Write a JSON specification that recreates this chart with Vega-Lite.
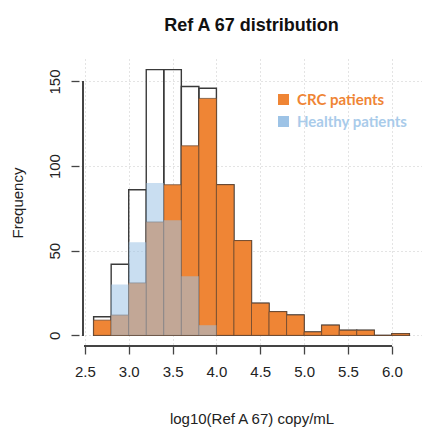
{
  "$schema": "https://vega.github.io/schema/vega-lite/v6.json",
  "width": 341,
  "height": 287,
  "autosize": {"type": "none"},
  "padding": {"left": 81, "top": 59, "right": 0, "bottom": 86},
  "background": "white",
  "title": {
    "text": "Ref A 67 distribution",
    "font": "Liberation Sans",
    "fontSize": 18,
    "fontWeight": "bold",
    "color": "#111",
    "anchor": "middle",
    "frame": "group",
    "baseline": "alphabetic",
    "offset": 10
  },
  "config": {
    "view": {"stroke": null},
    "axis": {
      "labelFont": "Liberation Sans",
      "titleFont": "Liberation Sans",
      "labelColor": "#222",
      "titleColor": "#222",
      "labelFontSize": 15,
      "titleFontSize": 15,
      "titleFontWeight": "normal",
      "tickColor": "#444",
      "tickWidth": 1.3,
      "domain": false,
      "gridColor": "#c8c8c8",
      "gridDash": [1, 3],
      "gridWidth": 1
    }
  },
  "data": {
    "values": [
      {"lo": 2.6, "hi": 2.8, "group": "All", "n": 11},
      {"lo": 2.8, "hi": 3.0, "group": "All", "n": 42},
      {"lo": 3.0, "hi": 3.2, "group": "All", "n": 86},
      {"lo": 3.2, "hi": 3.4, "group": "All", "n": 157},
      {"lo": 3.4, "hi": 3.6, "group": "All", "n": 157},
      {"lo": 3.6, "hi": 3.8, "group": "All", "n": 147},
      {"lo": 3.8, "hi": 4.0, "group": "All", "n": 146},
      {"lo": 4.0, "hi": 4.2, "group": "All", "n": 89},
      {"lo": 4.2, "hi": 4.4, "group": "All", "n": 56},
      {"lo": 4.4, "hi": 4.6, "group": "All", "n": 19},
      {"lo": 4.6, "hi": 4.8, "group": "All", "n": 14},
      {"lo": 4.8, "hi": 5.0, "group": "All", "n": 12},
      {"lo": 5.0, "hi": 5.2, "group": "All", "n": 2},
      {"lo": 5.2, "hi": 5.4, "group": "All", "n": 6},
      {"lo": 5.4, "hi": 5.6, "group": "All", "n": 3},
      {"lo": 5.6, "hi": 5.8, "group": "All", "n": 3},
      {"lo": 5.8, "hi": 6.0, "group": "All", "n": 0},
      {"lo": 6.0, "hi": 6.2, "group": "All", "n": 1},
      {"lo": 2.6, "hi": 2.8, "group": "CRC patients", "n": 9},
      {"lo": 2.8, "hi": 3.0, "group": "CRC patients", "n": 12},
      {"lo": 3.0, "hi": 3.2, "group": "CRC patients", "n": 31},
      {"lo": 3.2, "hi": 3.4, "group": "CRC patients", "n": 67},
      {"lo": 3.4, "hi": 3.6, "group": "CRC patients", "n": 89},
      {"lo": 3.6, "hi": 3.8, "group": "CRC patients", "n": 112},
      {"lo": 3.8, "hi": 4.0, "group": "CRC patients", "n": 140},
      {"lo": 4.0, "hi": 4.2, "group": "CRC patients", "n": 89},
      {"lo": 4.2, "hi": 4.4, "group": "CRC patients", "n": 56},
      {"lo": 4.4, "hi": 4.6, "group": "CRC patients", "n": 19},
      {"lo": 4.6, "hi": 4.8, "group": "CRC patients", "n": 14},
      {"lo": 4.8, "hi": 5.0, "group": "CRC patients", "n": 12},
      {"lo": 5.0, "hi": 5.2, "group": "CRC patients", "n": 2},
      {"lo": 5.2, "hi": 5.4, "group": "CRC patients", "n": 6},
      {"lo": 5.4, "hi": 5.6, "group": "CRC patients", "n": 3},
      {"lo": 5.6, "hi": 5.8, "group": "CRC patients", "n": 3},
      {"lo": 5.8, "hi": 6.0, "group": "CRC patients", "n": 0},
      {"lo": 6.0, "hi": 6.2, "group": "CRC patients", "n": 1},
      {"lo": 2.8, "hi": 3.0, "group": "Healthy patients", "n": 30},
      {"lo": 3.0, "hi": 3.2, "group": "Healthy patients", "n": 55},
      {"lo": 3.2, "hi": 3.4, "group": "Healthy patients", "n": 90},
      {"lo": 3.4, "hi": 3.6, "group": "Healthy patients", "n": 68},
      {"lo": 3.6, "hi": 3.8, "group": "Healthy patients", "n": 35},
      {"lo": 3.8, "hi": 4.0, "group": "Healthy patients", "n": 6}
    ]
  },
  "encoding": {
    "x": {
      "field": "lo",
      "type": "quantitative",
      "scale": {"domain": [2.456, 6.344], "nice": false, "zero": false},
      "axis": {
        "values": [2.5, 3.0, 3.5, 4.0, 4.5, 5.0, 5.5, 6.0],
        "format": ".1f",
        "grid": true,
        "tickSize": 8,
        "labelPadding": 10,
        "title": "log10(Ref A 67) copy/mL",
        "titlePadding": 32
      }
    },
    "y": {
      "field": "n",
      "type": "quantitative",
      "scale": {"domain": [-6.28, 163.28], "nice": false, "zero": false},
      "axis": {
        "values": [0, 50, 100, 150],
        "grid": true,
        "offset": 2,
        "tickSize": 8,
        "labelAngle": -90,
        "labelPadding": 9,
        "title": "Frequency",
        "titlePadding": 22
      }
    }
  },
  "layer": [
    {
      "transform": [{"filter": "datum.group === 'All'"}],
      "mark": {"type": "rect", "fill": null, "fillOpacity": 0, "stroke": "#3a3a3a", "strokeWidth": 1.4},
      "encoding": {
        "x2": {"field": "hi"},
        "y2": {"datum": 0}
      }
    },
    {
      "transform": [{"filter": "datum.group === 'CRC patients'"}],
      "mark": {"type": "rect", "opacity": 1, "stroke": "#6b4a33", "strokeOpacity": 0.75, "strokeWidth": 1},
      "encoding": {
        "x2": {"field": "hi"},
        "y2": {"datum": 0},
        "color": {
          "field": "group",
          "type": "nominal",
          "scale": {"domain": ["CRC patients", "Healthy patients"], "range": ["#EF8535", "#9DC3E6"]},
          "legend": {
            "orient": "none",
            "legendX": 195,
            "legendY": 33,
            "title": null,
            "symbolType": "square",
            "symbolSize": 121,
            "symbolOpacity": 1,
            "symbolStrokeWidth": 0,
            "labelFont": "Lato",
            "labelFontSize": 15,
            "labelFontWeight": "bold",
            "labelOffset": 6,
            "rowPadding": 6,
            "encode": {
              "symbols": {"update": {"opacity": {"value": 1}, "fillOpacity": {"value": 1}, "fill": {"signal": "datum.value === 'CRC patients' ? '#EF8535' : '#94BCE2'"}}},
              "labels": {"update": {"fill": {"signal": "datum.value === 'CRC patients' ? '#EF8535' : '#A9CBEA'"}}}
            }
          }
        }
      }
    },
    {
      "transform": [{"filter": "datum.group === 'Healthy patients'"}],
      "mark": {"type": "rect", "opacity": 0.55, "strokeWidth": 0},
      "encoding": {
        "x2": {"field": "hi"},
        "y2": {"datum": 0},
        "color": {
          "field": "group",
          "type": "nominal",
          "legend": {
            "orient": "none",
            "legendX": 195,
            "legendY": 33,
            "title": null,
            "symbolType": "square",
            "symbolSize": 121,
            "symbolOpacity": 1,
            "symbolStrokeWidth": 0,
            "labelFont": "Lato",
            "labelFontSize": 15,
            "labelFontWeight": "bold",
            "labelOffset": 6,
            "rowPadding": 6,
            "encode": {
              "symbols": {"update": {"opacity": {"value": 1}, "fillOpacity": {"value": 1}, "fill": {"signal": "datum.value === 'CRC patients' ? '#EF8535' : '#94BCE2'"}}},
              "labels": {"update": {"fill": {"signal": "datum.value === 'CRC patients' ? '#EF8535' : '#A9CBEA'"}}}
            }
          }
        }
      }
    },
    {
      "mark": {"type": "rule", "color": "#444", "strokeWidth": 1.3},
      "encoding": {
        "x": {"datum": 2.479},
        "y": {"datum": 0},
        "y2": {"datum": 150}
      }
    },
    {
      "mark": {"type": "rule", "color": "#444", "strokeWidth": 1.3},
      "encoding": {
        "x": {"datum": 2.5},
        "x2": {"datum": 6.0},
        "y": {"datum": -6.28}
      }
    }
  ]
}
